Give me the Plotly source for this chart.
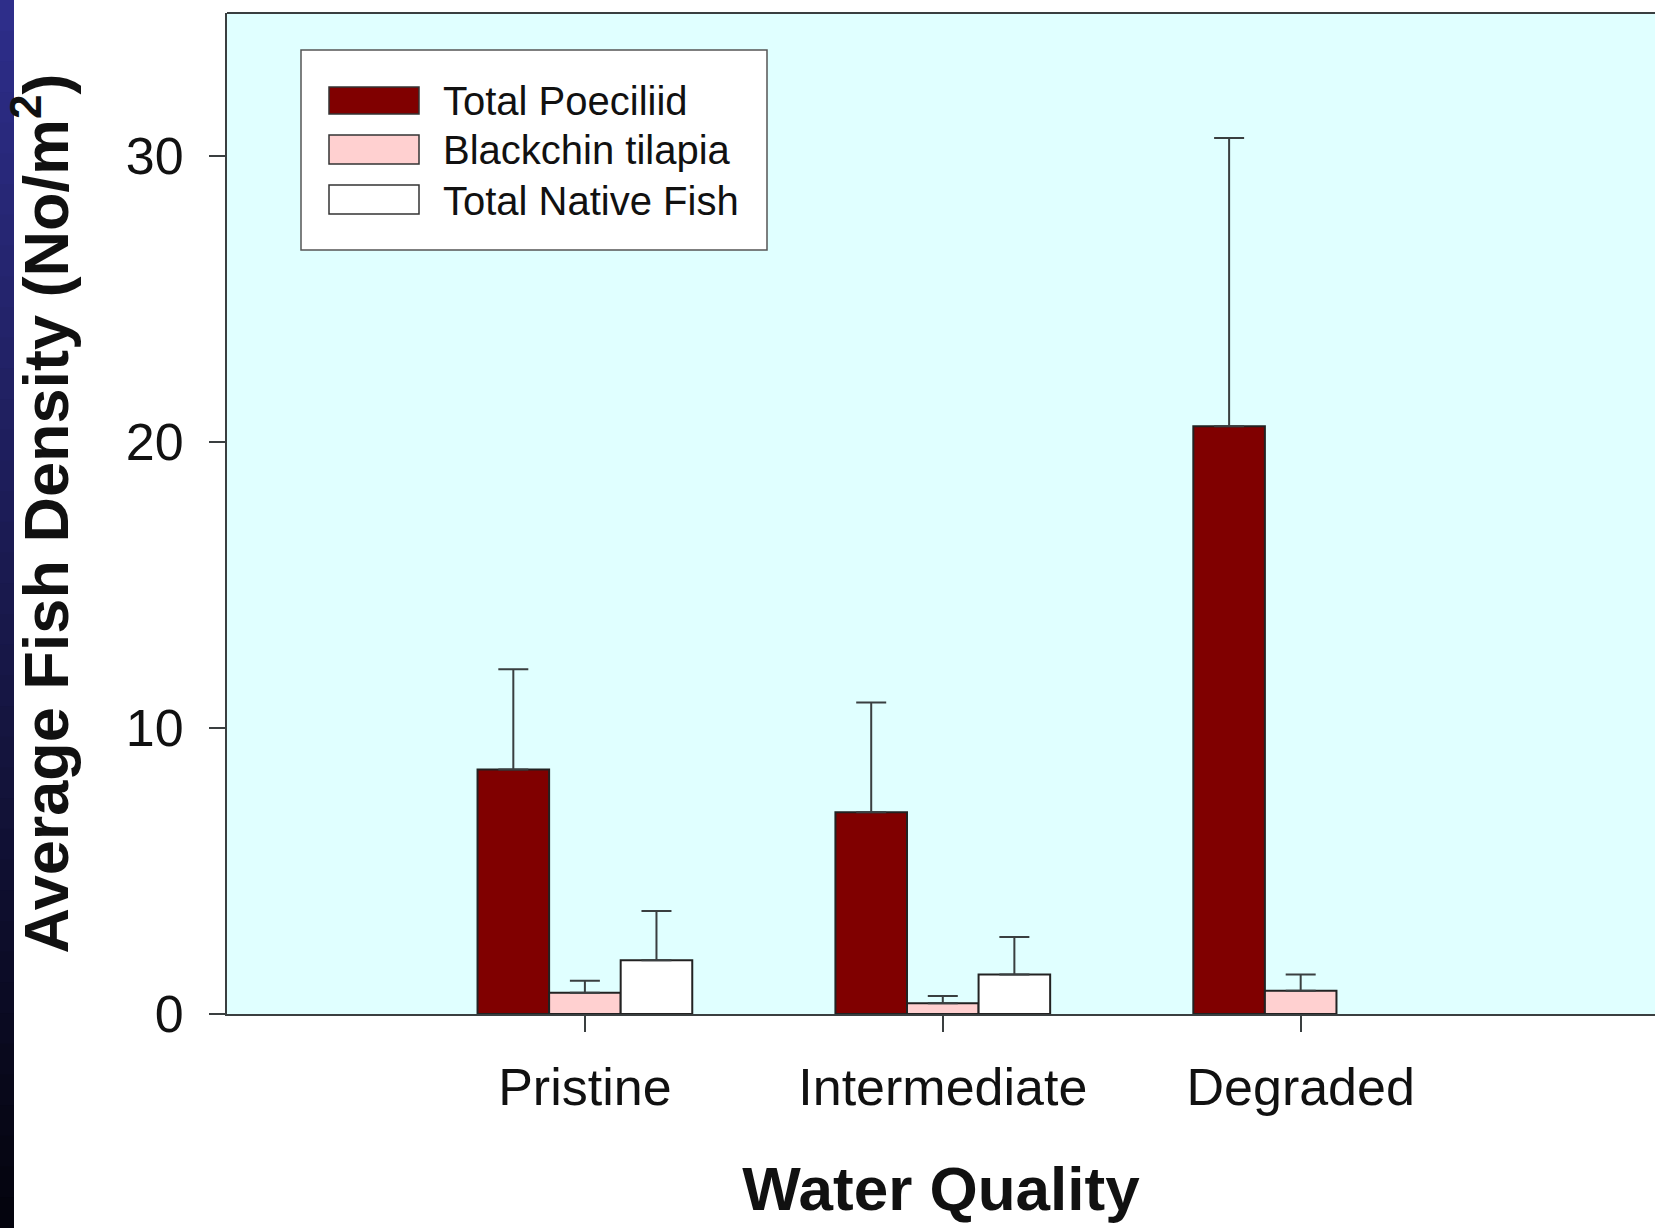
import plotly.graph_objects as go

categories = ["Pristine", "Intermediate", "Degraded"]
series_names = ["Total Poeciliid", "Blackchin tilapia", "Total Native Fish"]
poeciliid = [8.55, 7.05, 20.55]
poeciliid_err = [3.5, 3.84, 10.08]
tilapia = [0.74, 0.38, 0.81]
tilapia_err = [0.42, 0.25, 0.57]
native = [1.88, 1.38, None]
native_err = [1.72, 1.31, None]
y_ticks = [0, 10, 20, 30]

values = [poeciliid, tilapia, native]
errors = [poeciliid_err, tilapia_err, native_err]
fills = ["#800000", "#FFD0D0", "#FFFFFF"]

FONT = "Liberation Sans, Arial, Helvetica, sans-serif"
LINE = "#3a3f40"

fig = go.Figure()
for name, vals, errs, fill in zip(series_names, values, errors, fills):
    fig.add_trace(go.Bar(
        x=categories, y=vals, name=name,
        marker=dict(color=fill, line=dict(color="#222222", width=2)),
        error_y=dict(type="data", symmetric=False, array=errs,
                     arrayminus=[0 if e is not None else None for e in errs],
                     color=LINE, thickness=2, width=15),
        showlegend=False,
    ))

W, H = 1655, 1228
ML, MR, MT, MB = 227, 0, 13, 214
PW, PH = W - ML - MR, H - MT - MB

def px_x(x):
    return (x - ML) / PW

def px_y(y):
    return (H - MB - y) / PH

shapes = []
# left decorative dark strip (stepped gradient, overlapping bands)
steps = 40
band = H / steps
for i in range(steps):
    t = i / (steps - 1)
    r = int(46 + (4 - 46) * t)
    g = int(46 + (4 - 46) * t)
    b = int(138 + (14 - 138) * t)
    shapes.append(dict(type="rect", xref="paper", yref="paper",
                       x0=px_x(-2), x1=px_x(14),
                       y0=px_y(min(H + 2, band * (i + 1) + 3)), y1=px_y(band * i - (2 if i == 0 else 0)),
                       fillcolor=f"rgb({r},{g},{b})", line=dict(width=0), layer="above"))
# top frame line
shapes.append(dict(type="line", xref="paper", yref="paper", x0=0, x1=1, y0=1, y1=1,
                   line=dict(color=LINE, width=2)))
# legend box
shapes.append(dict(type="rect", xref="paper", yref="paper",
                   x0=px_x(301), x1=px_x(767), y0=px_y(250), y1=px_y(50),
                   fillcolor="white", line=dict(color="#555555", width=1.5)))
annotations = []
sw_y = [(87, 114), (135, 164), (185, 214)]
for (y0, y1), fill, name in zip(sw_y, fills, series_names):
    shapes.append(dict(type="rect", xref="paper", yref="paper",
                       x0=px_x(329), x1=px_x(419), y0=px_y(y1), y1=px_y(y0),
                       fillcolor=fill, line=dict(color="#333333", width=1.5)))
    annotations.append(dict(xref="paper", yref="paper", x=px_x(441), y=px_y((y0 + y1) / 2 + 1),
                            xanchor="left", yanchor="middle", showarrow=False,
                            text=name, font=dict(family=FONT, size=40, color="#111111")))

fig.update_layout(
    width=W, height=H,
    margin=dict(l=ML, r=MR, t=MT, b=MB, autoexpand=False),
    paper_bgcolor="white", plot_bgcolor="#E0FFFF",
    barmode="group", bargap=0.4, bargroupgap=0,
    shapes=shapes, annotations=annotations,
    font=dict(family=FONT, color="#111111"),
)
fig.update_xaxes(
    range=[-1, 2.99], showline=True, linecolor=LINE, linewidth=2,
    ticks="outside", ticklen=16, tickwidth=2, tickcolor=LINE,
    tickfont=dict(size=52, family=FONT, color="#111111"), ticklabelstandoff=11,
    showgrid=False, zeroline=False,
    title=dict(text="<b>Water Quality</b>", font=dict(size=62, family=FONT, color="#111111"), standoff=51),
)
fig.update_yaxes(
    range=[0, 35], tickvals=y_ticks, showline=True, linecolor=LINE, linewidth=2,
    ticks="outside", ticklen=16, tickwidth=2, tickcolor=LINE,
    tickfont=dict(size=52, family=FONT, color="#111111"), ticklabelstandoff=15,
    showgrid=False, zeroline=False,
    title=dict(text="<b>Average Fish Density (No/m<sup>2</sup>)</b>",
               font=dict(size=63, family=FONT, color="#111111"), standoff=37),
)
fig.write_html("out.html")
